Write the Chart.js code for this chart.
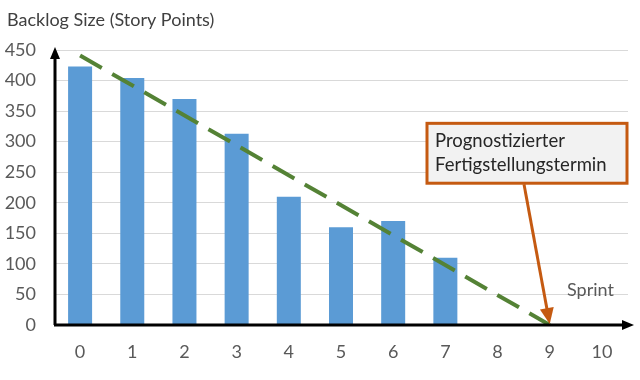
<!DOCTYPE html>
<html><head><meta charset="utf-8">
<script src="https://cdn.jsdelivr.net/npm/chart.js@4/dist/chart.umd.min.js"></script>
<style>html,body{margin:0;padding:0;background:#fff}#wrap{width:640px;height:380px}</style>
</head><body><div id="wrap"><canvas id="c" width="640" height="380"></canvas></div>
<script>
const sprints = ['0','1','2','3','4','5','6','7','8','9','10'];
const backlog = [423, 404, 370, 313, 210, 160, 170, 110, null, null, null];
const trend = [441, null, null, null, null, null, null, null, null, 0, null];
const yMin = 0, yMax = 450, yStep = 50;
const titleText = 'Backlog Size (Story Points)';
const xAxisLabel = 'Sprint';
const calloutLines = ['Prognostizierter', 'Fertigstellungstermin'];
const calloutSprint = 9, calloutValue = 0;

const FONT = 'Lato, "Open Sans", sans-serif';

function arrowHead(ctx, x, y, angle, len, w, color) {
  ctx.save();
  ctx.translate(x, y); ctx.rotate(angle);
  ctx.beginPath();
  ctx.moveTo(0, 0); ctx.lineTo(-len, -w / 2); ctx.lineTo(-len, w / 2); ctx.closePath();
  ctx.fillStyle = color; ctx.fill();
  ctx.restore();
}

const decor = {
  id: 'decor',
  afterDraw(chart) {
    const ctx = chart.ctx, a = chart.chartArea;
    const xs = chart.scales.x, ys = chart.scales.y;
    ctx.save();
    // title
    ctx.fillStyle = '#404040';
    ctx.font = '18px ' + FONT;
    ctx.textBaseline = 'middle'; ctx.textAlign = 'left';
    ctx.fillText(titleText, 7, 20);
    // axes
    ctx.strokeStyle = '#000'; ctx.lineWidth = 3;
    ctx.beginPath();
    ctx.moveTo(a.left + 1, a.bottom); ctx.lineTo(a.left + 1, a.top + 8);
    ctx.moveTo(a.left, a.bottom); ctx.lineTo(a.right - 4, a.bottom);
    ctx.stroke();
    arrowHead(ctx, a.left + 1, a.top - 3, -Math.PI / 2, 12, 10, '#000');
    arrowHead(ctx, a.right + 6, a.bottom, 0, 12, 10, '#000');
    // x-axis label
    ctx.fillStyle = '#595959';
    ctx.font = '18px ' + FONT;
    ctx.textAlign = 'left';
    ctx.fillText(xAxisLabel, 567, ys.getPixelForValue(57));
    // callout box
    const bRight = a.right - 1, bLeft = bRight - 200;
    const bTop = ys.getPixelForValue(330), bBot = ys.getPixelForValue(232);
    ctx.fillStyle = '#f2f2f2';
    ctx.fillRect(bLeft, bTop, bRight - bLeft, bBot - bTop);
    ctx.strokeStyle = '#c55a11'; ctx.lineWidth = 3;
    ctx.strokeRect(bLeft, bTop, bRight - bLeft, bBot - bTop);
    ctx.fillStyle = '#262626';
    ctx.font = '18.5px ' + FONT;
    ctx.textAlign = 'left';
    ctx.fillText(calloutLines[0], bLeft + 8, bTop + 18);
    ctx.fillText(calloutLines[1], bLeft + 8, bTop + 42);
    // callout arrow
    const tx = xs.getPixelForValue(calloutSprint), ty = ys.getPixelForValue(calloutValue) - 1;
    const sx = bLeft + 97, sy = bBot + 1;
    const ang = Math.atan2(ty - sy, tx - sx);
    const hl = 16;
    ctx.strokeStyle = '#c55a11'; ctx.lineWidth = 3;
    ctx.beginPath();
    ctx.moveTo(sx, sy);
    ctx.lineTo(tx - Math.cos(ang) * (hl - 2), ty - Math.sin(ang) * (hl - 2));
    ctx.stroke();
    arrowHead(ctx, tx, ty, ang, hl, 14, '#c55a11');
    ctx.restore();
  }
};

new Chart(document.getElementById('c'), {
  data: {
    labels: sprints,
    datasets: [
      { type: 'bar', data: backlog, backgroundColor: '#5b9bd5', categoryPercentage: 1, barPercentage: 0.46, order: 2 },
      { type: 'line', data: trend, borderColor: '#548235', borderWidth: 4, borderDash: [25, 12],
        pointRadius: 0, spanGaps: true, fill: false, order: 1 }
    ]
  },
  options: {
    responsive: false, animation: false, devicePixelRatio: 1,
    layout: { padding: { top: 50, right: 12, left: 0, bottom: 0 } },
    plugins: { legend: { display: false }, tooltip: { enabled: false }, title: { display: false } },
    scales: {
      x: {
        offset: true,
        grid: { display: false, drawTicks: false },
        border: { display: false },
        ticks: { color: '#595959', font: { family: FONT, size: 18 }, padding: 16, maxRotation: 0 },
        afterFit(s) { s.height = 55; }
      },
      y: {
        min: yMin, max: yMax,
        grid: { color: '#d9d9d9', lineWidth: 1, drawTicks: false },
        border: { display: false },
        ticks: { stepSize: yStep, color: '#595959', font: { family: FONT, size: 18 }, padding: 18 },
        afterFit(s) { s.width = 54; }
      }
    }
  },
  plugins: [decor]
});
</script>
</body></html>
